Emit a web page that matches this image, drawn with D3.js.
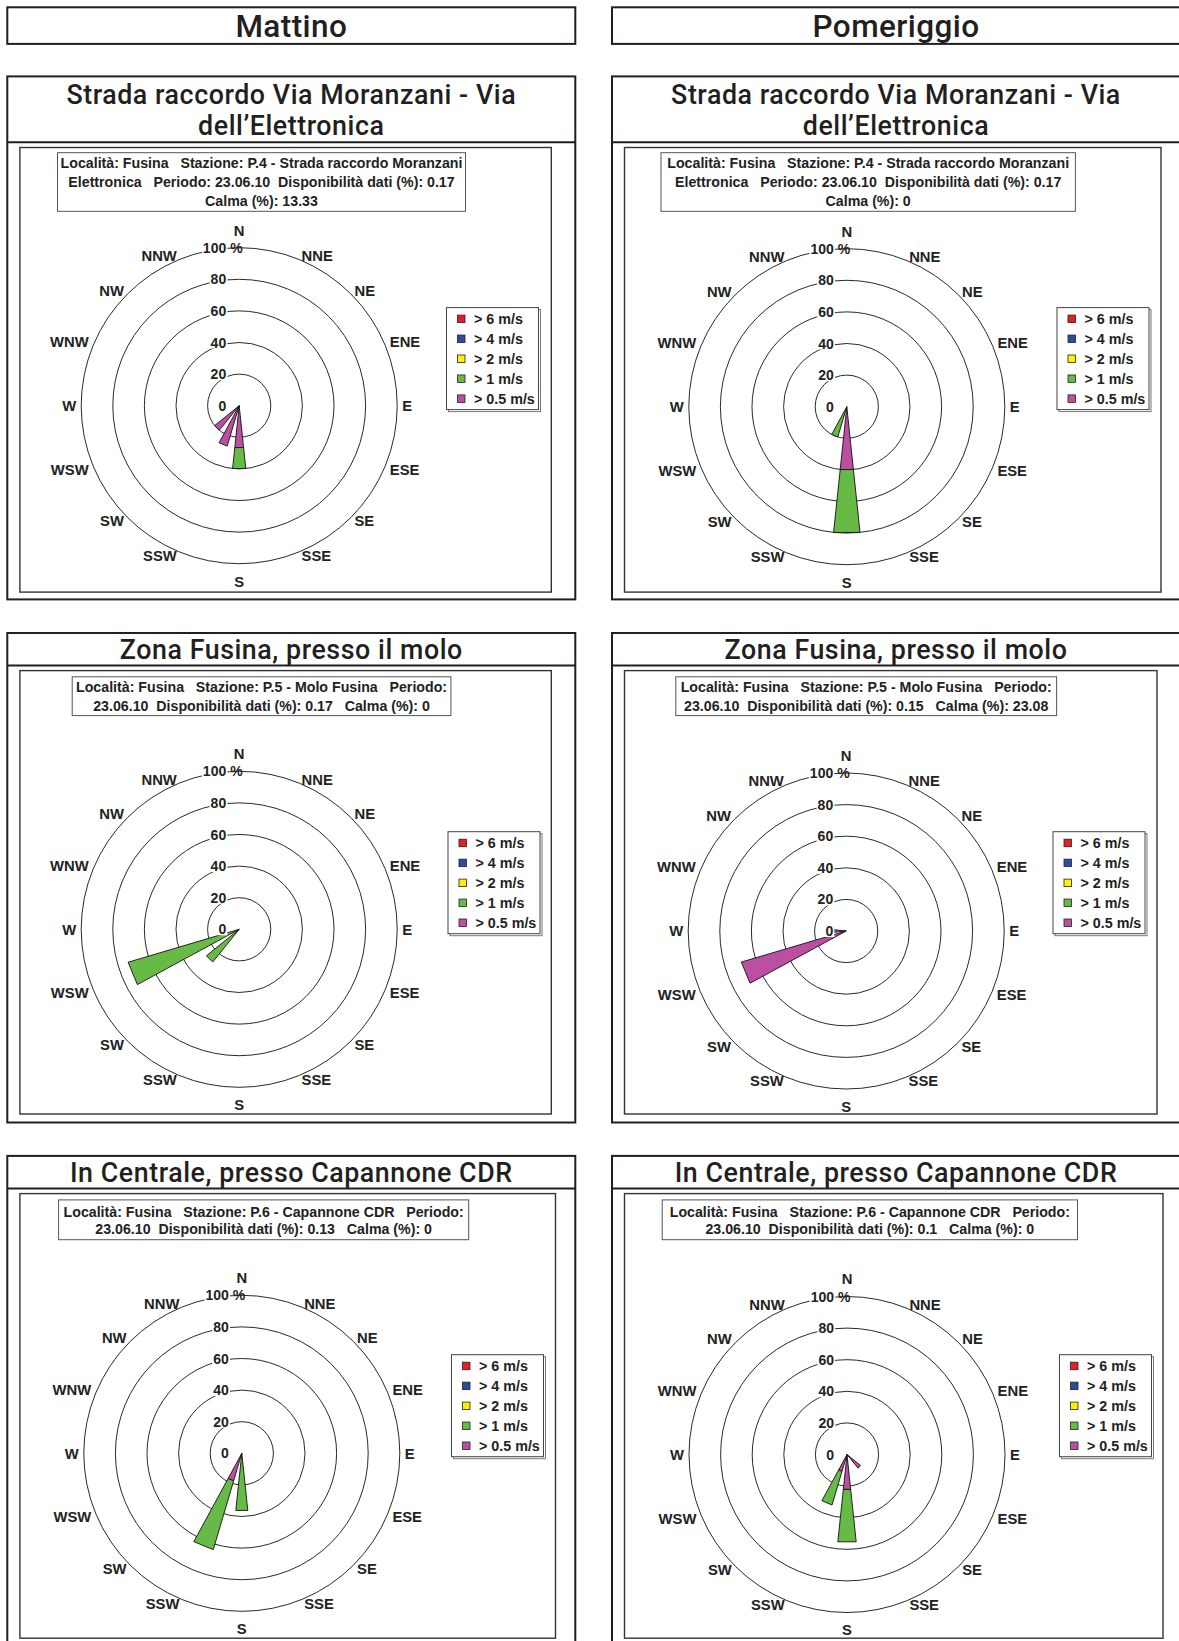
<!DOCTYPE html>
<html><head><meta charset="utf-8">
<script src="https://cdn.jsdelivr.net/npm/d3@7"></script>
<style>
body{margin:0;background:#fff;}
svg{display:block;}
text{font-family:"Liberation Sans",Arial,sans-serif;}
.ttl{font-family:Roboto,"Liberation Sans",sans-serif;font-weight:500;fill:#231f20;}
.info{font-weight:bold;font-size:14.2px;white-space:pre;fill:#222;}
.lbl{font-weight:bold;font-size:14px;fill:#222;}
.cmp{font-weight:bold;font-size:14.8px;fill:#222;}
.leg{font-weight:bold;font-size:14.3px;fill:#222;}
</style></head><body>
<svg id="chart" width="1179" height="1641"></svg>
<script>
// ---------- DATA ----------
const directions = ["N","NNE","NE","ENE","E","ESE","SE","SSE","S","SSW","SW","WSW","W","WNW","NW","NNW"];
const legendLabels = ["> 6 m/s","> 4 m/s","> 2 m/s","> 1 m/s","> 0.5 m/s"];
const stackOrder = ["> 0.5 m/s","> 1 m/s","> 2 m/s","> 4 m/s","> 6 m/s"];
const ringTicks = [0,20,40,60,80,100];
const columnTitles = ["Mattino","Pomeriggio"];
const siteTitles = [["Strada raccordo Via Moranzani - Via","dell’Elettronica"],["Zona Fusina, presso il molo"],["In Centrale, presso Capannone CDR"]];

const infoP4Mattino = ["Località: Fusina   Stazione: P.4 - Strada raccordo Moranzani","Elettronica   Periodo: 23.06.10  Disponibilità dati (%): 0.17","Calma (%): 13.33"];
const infoP4Pomeriggio = ["Località: Fusina   Stazione: P.4 - Strada raccordo Moranzani","Elettronica   Periodo: 23.06.10  Disponibilità dati (%): 0.17","Calma (%): 0"];
const infoP5Mattino = ["Località: Fusina   Stazione: P.5 - Molo Fusina   Periodo:","23.06.10  Disponibilità dati (%): 0.17   Calma (%): 0"];
const infoP5Pomeriggio = ["Località: Fusina   Stazione: P.5 - Molo Fusina   Periodo:","23.06.10  Disponibilità dati (%): 0.15   Calma (%): 23.08"];
const infoP6Mattino = ["Località: Fusina   Stazione: P.6 - Capannone CDR   Periodo:","23.06.10  Disponibilità dati (%): 0.13   Calma (%): 0"];
const infoP6Pomeriggio = ["Località: Fusina   Stazione: P.6 - Capannone CDR   Periodo:","23.06.10  Disponibilità dati (%): 0.1   Calma (%): 0"];

// frequencies (%) per direction:  N NNE NE ENE E ESE SE SSE S SSW SW WSW W WNW NW NNW
const noData             = [0,0,0,0,0,0,0,0,0,0,0,0,0,0,0,0];
const p4MattinoOver05    = [0,0,0,0,0,0,0,0,26.67,26.67,20,0,0,0,0,0];
const p4MattinoOver1     = [0,0,0,0,0,0,0,0,13.33,0,0,0,0,0,0,0];
const p4PomeriggioOver05 = [0,0,0,0,0,0,0,0,40,0,0,0,0,0,0,0];
const p4PomeriggioOver1  = [0,0,0,0,0,0,0,0,40,20,0,0,0,0,0,0];
const p5MattinoOver1     = [0,0,0,0,0,0,0,0,0,0,26.67,73.33,0,0,0,0];
const p5PomeriggioOver05 = [0,0,0,0,0,0,0,0,0,0,0,69.23,7.69,0,0,0];
const p6MattinoOver05    = [0,0,0,0,0,0,0,0,0,18.18,0,0,0,0,0,0];
const p6MattinoOver1     = [0,0,0,0,0,0,0,0,36.36,45.45,0,0,0,0,0,0];
const p6PomeriggioOver05 = [0,0,0,0,0,0,11.11,0,22.22,11.11,0,0,0,0,0,0];
const p6PomeriggioOver1  = [0,0,0,0,0,0,0,0,33.33,22.22,0,0,0,0,0,0];

const panelsData = [
  {info: infoP4Mattino,    s: [p4MattinoOver05, p4MattinoOver1, noData, noData, noData]},
  {info: infoP4Pomeriggio, s: [p4PomeriggioOver05, p4PomeriggioOver1, noData, noData, noData]},
  {info: infoP5Mattino,    s: [noData, p5MattinoOver1, noData, noData, noData]},
  {info: infoP5Pomeriggio, s: [p5PomeriggioOver05, noData, noData, noData, noData]},
  {info: infoP6Mattino,    s: [p6MattinoOver05, p6MattinoOver1, noData, noData, noData]},
  {info: infoP6Pomeriggio, s: [p6PomeriggioOver05, p6PomeriggioOver1, noData, noData, noData]}
];

// ---------- STYLE / LAYOUT ----------
const classColor = d3.scaleOrdinal().domain(legendLabels)
  .range(["#E31E24","#2B4DA0","#FFF000","#67BA46","#BB50A2"]);
const colFrame = [{x:7.3,w:568},{x:612,w:568}];
const rowFrame = [
  {y:76.4,h:523,sep:142.3,titleY:[94,125.5],innerY:147.5,innerH:444.6,infoY:152.7,infoH:58.6,lineY:[163.2,182,200.9]},
  {y:633,h:489.5,sep:665.4,titleY:[649.6],innerY:670.6,innerH:443.4,infoY:676.8,infoH:38.8,lineY:[687.3,706.2]},
  {y:1155.9,h:520,sep:1188.4,titleY:[1172.7],innerY:1193.6,innerH:444.6,infoY:1199.9,infoH:39.8,lineY:[1211.4,1229.2]}
];
const panelPos = [
  {inner:[19.9,551.3], info:[57.5,465.5], cx:239.2, cy:405.7, legend:[446.5,307.6]},
  {inner:[624.5,1161], info:[661,1075.4], cx:846.8, cy:406.7, legend:[1057,307.6]},
  {inner:[19.9,551.3], info:[72.2,450.9], cx:239.2, cy:929.3, legend:[448,831.7]},
  {inner:[624.5,1157], info:[675.8,1056.6], cx:846.2, cy:931, legend:[1053,831.7]},
  {inner:[19.9,555.5], info:[58.6,468.7], cx:241.8, cy:1453.3, legend:[451.5,1354.7]},
  {inner:[624.5,1163], info:[662.2,1077.5], cx:847, cy:1454.5, legend:[1059.5,1354.7]}
];
const R = 158, HALF = 6 * Math.PI / 180;

const svg = d3.select("#chart");
const r = d3.scaleLinear().domain([0,100]).range([0,R]);
const ang = d3.scalePoint().domain(directions).range([0, 2*Math.PI*15/16]);

// column header boxes
columnTitles.forEach((t,i)=>{
  const c = colFrame[i];
  svg.append("rect").attr("x",c.x).attr("y",7.3).attr("width",c.w).attr("height",36.6)
    .attr("fill","none").attr("stroke","#231f20").attr("stroke-width",2);
  svg.append("text").attr("class","ttl").attr("x",c.x+c.w/2).attr("y",25.6).attr("dy","0.36em")
    .attr("text-anchor","middle").attr("font-size",31.5).attr("letter-spacing",0.4).text(t);
});

panelsData.forEach((pd,pi)=>{
  const col = pi % 2, row = Math.floor(pi/2);
  const c = colFrame[col], rf = rowFrame[row], pp = panelPos[pi];
  const g = svg.append("g");
  // outer frame
  g.append("rect").attr("x",c.x).attr("y",rf.y).attr("width",c.w).attr("height",rf.h)
    .attr("fill","none").attr("stroke","#231f20").attr("stroke-width",2);
  g.append("line").attr("x1",c.x).attr("x2",c.x+c.w).attr("y1",rf.sep).attr("y2",rf.sep)
    .attr("stroke","#231f20").attr("stroke-width",2);
  siteTitles[row].forEach((t,li)=>{
    g.append("text").attr("class","ttl").attr("text-anchor","middle").attr("font-size",26.8).attr("letter-spacing",0.55)
      .attr("x",c.x+c.w/2).attr("y",rf.titleY[li]).attr("dy","0.36em").text(t);
  });
  // inner plot frame
  g.append("rect").attr("x",pp.inner[0]).attr("y",rf.innerY).attr("width",pp.inner[1]-pp.inner[0]).attr("height",rf.innerH)
    .attr("fill","#fff").attr("stroke","#333").attr("stroke-width",1.4);
  // info box
  const clipId = "clip"+pi;
  g.append("clipPath").attr("id",clipId).append("rect")
    .attr("x",pp.info[0]).attr("y",rf.infoY).attr("width",pp.info[1]-pp.info[0]).attr("height",rf.infoH);
  g.append("rect").attr("x",pp.info[0]).attr("y",rf.infoY).attr("width",pp.info[1]-pp.info[0]).attr("height",rf.infoH)
    .attr("fill","#fff").attr("stroke","#555").attr("stroke-width",1);
  const ig = g.append("g").attr("clip-path",`url(#${clipId})`);
  pd.info.forEach((t,li)=>{
    ig.append("text").attr("class","info").attr("x",(pp.info[0]+pp.info[1])/2).attr("y",rf.lineY[li]).attr("dy","0.36em")
      .attr("text-anchor","middle").text(t);
  });

  const cx = pp.cx, cy = pp.cy;
  const rose = g.append("g").attr("transform",`translate(${cx},${cy})`);
  // rings
  rose.selectAll("circle.ring").data(ringTicks.filter(d=>d>0)).join("circle").attr("class","ring")
    .attr("r",d=>r(d)).attr("fill","none").attr("stroke","#111").attr("stroke-width",0.9);

  // wedges (stacked)
  const rows = directions.map((d,i)=>{
    const o = {dir:d};
    stackOrder.forEach((k,ki)=>{ o[k] = pd.s[ki][i]; });
    return o;
  });
  const stacked = d3.stack().keys(stackOrder)(rows);
  const pt = (a,rad)=>[Math.sin(a)*rad, -Math.cos(a)*rad];
  stacked.forEach(layer=>{
    layer.forEach(seg=>{
      if (seg[1] - seg[0] <= 0) return;
      const a = ang(seg.data.dir);
      const r0 = r(seg[0]), r1 = r(seg[1]);
      const pts = r0 === 0 ? [[0,0], pt(a-HALF,r1), pt(a+HALF,r1)]
                           : [pt(a-HALF,r0), pt(a-HALF,r1), pt(a+HALF,r1), pt(a+HALF,r0)];
      rose.append("path").attr("d", d3.line()(pts)+"Z")
        .attr("fill",classColor(layer.key)).attr("stroke","#111").attr("stroke-width",0.9).attr("stroke-linejoin","miter");
    });
  });

  // ring tick labels
  ringTicks.forEach(t=>{
    const y = -r(t);
    const tx = rose.append("text").attr("class","lbl").attr("x",-13).attr("y",y).attr("dy","0.36em")
      .attr("text-anchor","end").text(t);
    const bb = tx.node().getBBox();
    rose.insert("rect","text").attr("x",bb.x-1).attr("y",y-6).attr("width",bb.width+2).attr("height",12).attr("fill","#fff");
    if (t === 100) {
      rose.append("text").attr("class","lbl").attr("x",-13+4).attr("y",y).attr("dy","0.36em")
        .attr("text-anchor","start").text("%");
    }
  });
  rose.selectAll("text.lbl").raise();

  // compass labels
  directions.forEach(d=>{
    const a = ang(d);
    const s = Math.sin(a), co = Math.cos(a);
    const sx = Math.max(-1,Math.min(1,s*3)), sy = Math.max(-1,Math.min(1,co*3));
    const gapY = (d==="N"||d==="S") ? 14.5 : 1;
    const t = rose.append("text").attr("class","cmp").attr("text-anchor","middle").text(d);
    const w = t.node().getComputedTextLength();
    const x = s*(R+5) + sx*w/2;
    const y = -co*(R+gapY) - sy*3;
    t.attr("x",x).attr("y",y).attr("dy","0.36em");
  });

  // legend
  const lx = pp.legend[0], ly = pp.legend[1], lw = 92, lh = 102;
  const lg = g.append("g").attr("transform",`translate(${lx},${ly})`);
  lg.append("rect").attr("x",2).attr("y",2).attr("width",lw).attr("height",lh).attr("fill","none").attr("stroke","#777").attr("stroke-width",1);
  lg.append("rect").attr("width",lw).attr("height",lh).attr("fill","#fff").attr("stroke","#444").attr("stroke-width",1);
  const ly0 = d3.scalePoint().domain(legendLabels).range([11.5,91.3]);
  legendLabels.forEach(k=>{
    lg.append("rect").attr("x",11).attr("y",ly0(k)-4).attr("width",7.5).attr("height",7.5)
      .attr("fill",classColor(k)).attr("stroke","#222").attr("stroke-width",0.8);
    lg.append("text").attr("class","leg").attr("x",27.5).attr("y",ly0(k)).attr("dy","0.36em").text(k);
  });
});
</script>
</body></html>
